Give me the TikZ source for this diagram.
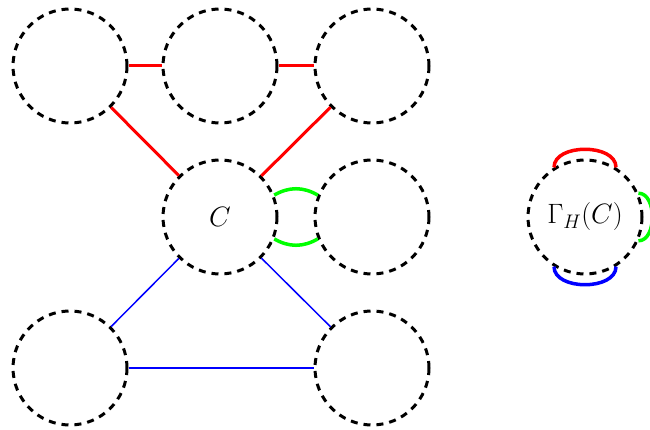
\documentclass[tikz,border=0pt]{standalone}
\usepackage{fix-cm}
\begin{document}
\begin{tikzpicture}[x=1pt,y=-1pt,
  blob/.style={circle,draw=black,line width=3pt,dash pattern=on 7pt off 6pt,
    minimum size=114pt,inner sep=0pt,font=\fontsize{28}{34}\selectfont},
  redlink/.style={draw=red,line width=3pt},
  bluelink/.style={draw=blue,line width=1.5pt},
  greenlink/.style={draw=green,line width=3.5pt},
  loopred/.style={draw=red,line width=3.5pt},
  loopblue/.style={draw=blue,line width=3.5pt},
  loopgreen/.style={draw=green,line width=3.5pt}]
\useasboundingbox (0,0) rectangle (650,430);

% graph H around the vertex C
\node[blob] (a1) at (70,66) {};
\node[blob] (a2) at (220,66) {};
\node[blob] (a3) at (372,66) {};
\node[blob] (c)  at (220,217) {$C$};
\node[blob] (r)  at (372,217) {};
\node[blob] (b1) at (70,368) {};
\node[blob] (b3) at (372,368) {};

\draw[redlink] (a1) -- (a2);
\draw[redlink] (a2) -- (a3);
\draw[redlink] (a1) -- (c);
\draw[redlink] (a3) -- (c);
\draw[greenlink] (c.22) to[bend left=30] (r.158);
\draw[greenlink] (c.-22) to[bend right=30] (r.-158);
\draw[bluelink] (c) -- (b1);
\draw[bluelink] (c) -- (b3);
\draw[bluelink] (b1) -- (b3);

% contracted vertex with its loops
\node[blob] (g) at (585,217) {$\Gamma_H(C)$};
\draw[loopred] (g.122) to[out=90,in=90] (g.58);
\draw[loopblue] (g.-122) to[out=-90,in=-90] (g.-58);
\draw[loopgreen] (g.24) to[out=0,in=0] (g.-24);
\end{tikzpicture}
\end{document}
